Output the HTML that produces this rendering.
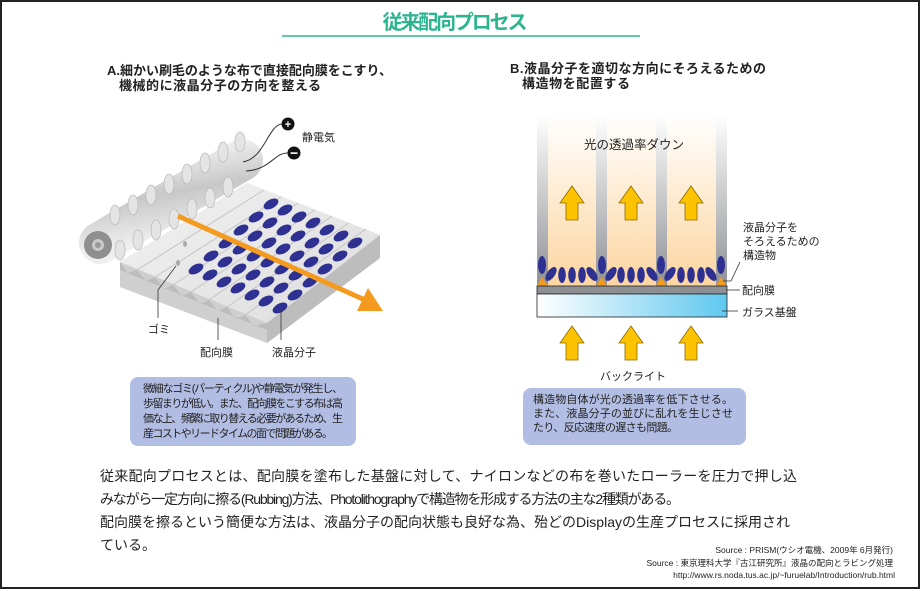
<!DOCTYPE html>
<html><head><meta charset="utf-8"><style>
html,body{margin:0;padding:0;background:#fff;}
svg{display:block;}
text{font-family:"Liberation Sans","Noto Sans CJK JP",sans-serif;}
</style></head><body>
<svg width="921" height="591" viewBox="0 0 921 591" xmlns="http://www.w3.org/2000/svg">
<defs>
<linearGradient id="gcol" x1="0" y1="0" x2="0" y2="1"><stop offset="0" stop-color="#fff"/><stop offset="1" stop-color="#8e9094"/></linearGradient>
<linearGradient id="pcol" x1="0" y1="0" x2="0" y2="1"><stop offset="0" stop-color="#fff"/><stop offset="1" stop-color="#fcd5a0"/></linearGradient>
<linearGradient id="glass" x1="0" y1="0" x2="1" y2="0"><stop offset="0" stop-color="#fff"/><stop offset="1" stop-color="#5fc8ef"/></linearGradient>
<linearGradient id="roll" x1="0" y1="0" x2="0.3" y2="1"><stop offset="0" stop-color="#f4f4f4"/><stop offset="0.5" stop-color="#c8c8c8"/><stop offset="1" stop-color="#efefef"/></linearGradient>
<linearGradient id="slab" x1="0" y1="0" x2="1" y2="1"><stop offset="0" stop-color="#f2f2f2"/><stop offset="1" stop-color="#dcdcdc"/></linearGradient>
<g id="up"><polygon points="0,-17 12,0 6,0 6,17 -6,17 -6,0 -12,0" fill="#fdc300" stroke="#8a6a00" stroke-width="0.8"/></g>
</defs>
<rect x="1" y="1" width="918" height="587" fill="#fff" stroke="#222" stroke-width="2"/>
<text x="455" y="29" font-size="20" font-weight="bold" fill="#2bb58f" text-anchor="middle" textLength="145">従来配向プロセス</text>
<line x1="282" y1="36" x2="640" y2="36" stroke="#2bb58f" stroke-width="1.5"/>

<text x="107" y="75" font-size="13" font-weight="bold" fill="#222" textLength="285">A.細かい刷毛のような布で直接配向膜をこすり、</text>
<text x="119" y="90" font-size="13" font-weight="bold" fill="#222" textLength="202">機械的に液晶分子の方向を整える</text>
<text x="510" y="73" font-size="13" font-weight="bold" fill="#222" textLength="256">B.液晶分子を適切な方向にそろえるための</text>
<text x="522" y="88" font-size="13" font-weight="bold" fill="#222" textLength="108">構造物を配置する</text>

<!-- left: slab -->
<polygon points="120,262 247,183 380,235 380,258 267,343 120,287" fill="#d6d6d6"/>
<polygon points="120,262 247,183 380,235 267,323" fill="url(#slab)"/>
<polygon points="120,262 267,323 267,343 120,287" fill="#cfcfcf"/>
<polygon points="120,262 128,273 137,270 146,281 155,277 164,289 173,285 182,296 191,292 200,304 209,300 218,311 227,307 236,319 245,315 254,326 267,323 267,330 120,270" fill="#bcbcbc"/>
<polygon points="267,323 380,235 380,258 267,343" fill="#bdbdbd"/>
<g stroke="#c4c4c4" stroke-width="1">
<line x1="137" y1="270" x2="264" y2="190"/><line x1="155" y1="277" x2="281" y2="197"/><line x1="173" y1="285" x2="298" y2="203"/><line x1="191" y1="292" x2="315" y2="210"/><line x1="209" y1="300" x2="332" y2="216"/><line x1="227" y1="307" x2="349" y2="223"/><line x1="245" y1="315" x2="366" y2="229"/>
</g>
<!-- roller -->
<line x1="100" y1="243" x2="242" y2="160" stroke="url(#roll)" stroke-width="42" stroke-linecap="round"/>
<g fill="#e4e4e4" stroke="#b8b8b8" stroke-width="0.7">
<ellipse cx="115" cy="215" rx="5" ry="10"/><ellipse cx="133" cy="205" rx="5" ry="10"/><ellipse cx="151" cy="195" rx="5" ry="10"/><ellipse cx="169" cy="184" rx="5" ry="10"/><ellipse cx="187" cy="174" rx="5" ry="10"/><ellipse cx="205" cy="163" rx="5" ry="10"/><ellipse cx="223" cy="152" rx="5" ry="10"/><ellipse cx="240" cy="142" rx="5" ry="10"/>
<ellipse cx="120" cy="250" rx="5" ry="10"/><ellipse cx="138" cy="240" rx="5" ry="10"/><ellipse cx="156" cy="230" rx="5" ry="10"/><ellipse cx="174" cy="219" rx="5" ry="10"/><ellipse cx="192" cy="209" rx="5" ry="10"/><ellipse cx="210" cy="198" rx="5" ry="10"/><ellipse cx="228" cy="187" rx="5" ry="10"/>
</g>
<circle cx="98" cy="245" r="14" fill="#8f8f8f"/><circle cx="98" cy="245" r="6" fill="#c9c9c9"/><circle cx="98" cy="245" r="3" fill="#999"/>
<!-- wires -->
<path d="M243,162 C265,158 268,125 282,124" fill="none" stroke="#333" stroke-width="1"/>
<path d="M246,171 C270,170 275,152 288,153" fill="none" stroke="#333" stroke-width="1"/>
<circle cx="288" cy="124" r="6.5" fill="#111"/><text x="288" y="128" font-size="11" fill="#fff" text-anchor="middle" font-weight="bold">+</text>
<circle cx="294" cy="153" r="6.5" fill="#111"/><rect x="290.5" y="152.3" width="7" height="1.6" fill="#fff"/>
<text x="302" y="141" font-size="11" fill="#222">静電気</text>
<!-- dust -->
<ellipse cx="185" cy="244" rx="2" ry="3" fill="#aaa"/><ellipse cx="178" cy="263" rx="2" ry="3" fill="#aaa"/>
<!-- LC molecules -->
<g fill="#2e3192">
<ellipse cx="280" cy="308" rx="8" ry="4.5" transform="rotate(-28 280 308)"/><ellipse cx="266" cy="301" rx="8" ry="4.5" transform="rotate(-28 266 301)"/><ellipse cx="252" cy="295" rx="8" ry="4.5" transform="rotate(-28 252 295)"/><ellipse cx="238" cy="288" rx="8" ry="4.5" transform="rotate(-28 238 288)"/><ellipse cx="224" cy="282" rx="8" ry="4.5" transform="rotate(-28 224 282)"/><ellipse cx="210" cy="275" rx="8" ry="4.5" transform="rotate(-28 210 275)"/><ellipse cx="196" cy="269" rx="8" ry="4.5" transform="rotate(-28 196 269)"/>
<ellipse cx="295" cy="295" rx="8" ry="4.5" transform="rotate(-28 295 295)"/><ellipse cx="281" cy="288" rx="8" ry="4.5" transform="rotate(-28 281 288)"/><ellipse cx="267" cy="282" rx="8" ry="4.5" transform="rotate(-28 267 282)"/><ellipse cx="253" cy="275" rx="8" ry="4.5" transform="rotate(-28 253 275)"/><ellipse cx="239" cy="269" rx="8" ry="4.5" transform="rotate(-28 239 269)"/><ellipse cx="225" cy="262" rx="8" ry="4.5" transform="rotate(-28 225 262)"/><ellipse cx="211" cy="256" rx="8" ry="4.5" transform="rotate(-28 211 256)"/>
<ellipse cx="310" cy="282" rx="8" ry="4.5" transform="rotate(-28 310 282)"/><ellipse cx="296" cy="275" rx="8" ry="4.5" transform="rotate(-28 296 275)"/><ellipse cx="282" cy="269" rx="8" ry="4.5" transform="rotate(-28 282 269)"/><ellipse cx="268" cy="262" rx="8" ry="4.5" transform="rotate(-28 268 262)"/><ellipse cx="254" cy="256" rx="8" ry="4.5" transform="rotate(-28 254 256)"/><ellipse cx="240" cy="249" rx="8" ry="4.5" transform="rotate(-28 240 249)"/><ellipse cx="226" cy="243" rx="8" ry="4.5" transform="rotate(-28 226 243)"/>
<ellipse cx="325" cy="269" rx="8" ry="4.5" transform="rotate(-28 325 269)"/><ellipse cx="311" cy="262" rx="8" ry="4.5" transform="rotate(-28 311 262)"/><ellipse cx="297" cy="256" rx="8" ry="4.5" transform="rotate(-28 297 256)"/><ellipse cx="283" cy="249" rx="8" ry="4.5" transform="rotate(-28 283 249)"/><ellipse cx="269" cy="243" rx="8" ry="4.5" transform="rotate(-28 269 243)"/><ellipse cx="255" cy="236" rx="8" ry="4.5" transform="rotate(-28 255 236)"/><ellipse cx="241" cy="230" rx="8" ry="4.5" transform="rotate(-28 241 230)"/>
<ellipse cx="340" cy="256" rx="8" ry="4.5" transform="rotate(-28 340 256)"/><ellipse cx="326" cy="249" rx="8" ry="4.5" transform="rotate(-28 326 249)"/><ellipse cx="312" cy="243" rx="8" ry="4.5" transform="rotate(-28 312 243)"/><ellipse cx="298" cy="236" rx="8" ry="4.5" transform="rotate(-28 298 236)"/><ellipse cx="284" cy="230" rx="8" ry="4.5" transform="rotate(-28 284 230)"/><ellipse cx="270" cy="223" rx="8" ry="4.5" transform="rotate(-28 270 223)"/><ellipse cx="256" cy="217" rx="8" ry="4.5" transform="rotate(-28 256 217)"/>
<ellipse cx="355" cy="243" rx="8" ry="4.5" transform="rotate(-28 355 243)"/><ellipse cx="341" cy="236" rx="8" ry="4.5" transform="rotate(-28 341 236)"/><ellipse cx="327" cy="230" rx="8" ry="4.5" transform="rotate(-28 327 230)"/><ellipse cx="313" cy="223" rx="8" ry="4.5" transform="rotate(-28 313 223)"/><ellipse cx="299" cy="217" rx="8" ry="4.5" transform="rotate(-28 299 217)"/><ellipse cx="285" cy="210" rx="8" ry="4.5" transform="rotate(-28 285 210)"/><ellipse cx="271" cy="204" rx="8" ry="4.5" transform="rotate(-28 271 204)"/>
</g>
<!-- orange arrow -->
<line x1="178" y1="216" x2="365" y2="300" stroke="#f39a1f" stroke-width="5"/>
<polygon points="383,311 357,311 368,288" fill="#f39a1f"/>
<!-- leaders -->
<polyline points="176,266 158,290 158,318" fill="none" stroke="#333" stroke-width="0.8"/>
<line x1="218" y1="318" x2="218" y2="340" stroke="#333" stroke-width="0.8"/>
<line x1="281" y1="310" x2="281" y2="340" stroke="#333" stroke-width="0.8"/>
<text x="148" y="333" font-size="11" fill="#222">ゴミ</text>
<text x="200" y="356" font-size="11" fill="#222">配向膜</text>
<text x="272" y="356" font-size="11" fill="#222">液晶分子</text>

<!-- right diagram -->
<rect x="537" y="115" width="190" height="171" fill="url(#pcol)"/>
<rect x="537" y="115" width="11" height="171" fill="url(#gcol)"/>
<rect x="596" y="115" width="11" height="171" fill="url(#gcol)"/>
<rect x="656" y="115" width="11" height="171" fill="url(#gcol)"/>
<rect x="716" y="115" width="11" height="171" fill="url(#gcol)"/>
<text x="634" y="149" font-size="12.5" fill="#222" text-anchor="middle">光の透過率ダウン</text>
<use href="#up" x="572" y="203"/><use href="#up" x="631" y="203"/><use href="#up" x="691" y="203"/>
<g fill="#f39a1f"><polygon points="537,286 548,286 542,277"/><polygon points="596,286 607,286 602,277"/><polygon points="656,286 667,286 661,277"/><polygon points="716,286 727,286 721,277"/></g>
<g fill="#2e3192">
<ellipse cx="542" cy="265" rx="4" ry="9"/><ellipse cx="602" cy="265" rx="4" ry="9"/><ellipse cx="661" cy="265" rx="4" ry="9"/><ellipse cx="721" cy="265" rx="4" ry="9"/>
<ellipse cx="551" cy="274" rx="4" ry="8" transform="rotate(35 551 274)"/><ellipse cx="592" cy="274" rx="4" ry="8" transform="rotate(-35 592 274)"/><ellipse cx="611" cy="274" rx="4" ry="8" transform="rotate(35 611 274)"/><ellipse cx="652" cy="274" rx="4" ry="8" transform="rotate(-35 652 274)"/><ellipse cx="670" cy="274" rx="4" ry="8" transform="rotate(35 670 274)"/><ellipse cx="711" cy="274" rx="4" ry="8" transform="rotate(-35 711 274)"/>
<ellipse cx="562" cy="275" rx="3.8" ry="8"/><ellipse cx="572" cy="275" rx="3.8" ry="8"/><ellipse cx="582" cy="275" rx="3.8" ry="8"/>
<ellipse cx="621" cy="275" rx="3.8" ry="8"/><ellipse cx="631" cy="275" rx="3.8" ry="8"/><ellipse cx="641" cy="275" rx="3.8" ry="8"/>
<ellipse cx="681" cy="275" rx="3.8" ry="8"/><ellipse cx="691" cy="275" rx="3.8" ry="8"/><ellipse cx="701" cy="275" rx="3.8" ry="8"/>
</g>
<rect x="537" y="286" width="190" height="8" fill="#8d8f92" stroke="#222" stroke-width="0.8"/>
<rect x="537" y="294" width="190" height="23" fill="url(#glass)" stroke="#222" stroke-width="0.8"/>
<use href="#up" x="572" y="343"/><use href="#up" x="631" y="343"/><use href="#up" x="691" y="343"/>
<text x="633" y="380" font-size="11" fill="#222" text-anchor="middle">バックライト</text>
<text x="743" y="231" font-size="11" fill="#222">液晶分子を</text>
<text x="743" y="245" font-size="11" fill="#222">そろえるための</text>
<text x="743" y="259" font-size="11" fill="#222">構造物</text>
<polyline points="723,281 731,281 740,262" fill="none" stroke="#333" stroke-width="0.8"/>
<line x1="727" y1="290" x2="740" y2="290" stroke="#333" stroke-width="0.8"/>
<text x="742" y="294" font-size="11" fill="#222">配向膜</text>
<line x1="722" y1="311" x2="738" y2="311" stroke="#333" stroke-width="0.8"/>
<text x="742" y="316" font-size="11" fill="#222">ガラス基盤</text>

<!-- boxes -->
<rect x="130" y="377" width="226" height="69" rx="8" fill="#b2bde3"/>
<text x="143" y="392" font-size="11" fill="#222" textLength="200">微細なゴミ(パーティクル)や静電気が発生し、</text>
<text x="143" y="407" font-size="11" fill="#222" textLength="200">歩留まりが低い。また、配向膜をこする布は高</text>
<text x="143" y="422" font-size="11" fill="#222" textLength="200">価な上、頻繁に取り替える必要があるため、生</text>
<text x="143" y="437" font-size="11" fill="#222" textLength="190">産コストやリードタイムの面で問題がある。</text>
<rect x="523" y="388" width="223" height="57" rx="8" fill="#b2bde3"/>
<text x="533" y="403" font-size="11" fill="#222" textLength="200">構造物自体が光の透過率を低下させる。</text>
<text x="533" y="417" font-size="11" fill="#222" textLength="200">また、液晶分子の並びに乱れを生じさせ</text>
<text x="533" y="431" font-size="11" fill="#222" textLength="145">たり、反応速度の遅さも問題。</text>

<!-- paragraph -->
<text x="100" y="481" font-size="14" fill="#222" textLength="697">従来配向プロセスとは、配向膜を塗布した基盤に対して、ナイロンなどの布を巻いたローラーを圧力で押し込</text>
<text x="100" y="504" font-size="14" fill="#222" textLength="580">みながら一定方向に擦る(Rubbing)方法、Photolithographyで構造物を形成する方法の主な2種類がある。</text>
<text x="100" y="527" font-size="14" fill="#222" textLength="690">配向膜を擦るという簡便な方法は、液晶分子の配向状態も良好な為、殆どのDisplayの生産プロセスに採用され</text>
<text x="100" y="550" font-size="14" fill="#222">ている。</text>

<text x="893" y="553" font-size="8.5" fill="#222" text-anchor="end">Source : PRISM(ウシオ電機、2009年 6月発行)</text>
<text x="893" y="566" font-size="8.5" fill="#222" text-anchor="end">Source : 東京理科大学『古江研究所』液晶の配向とラビング処理</text>
<text x="895" y="578" font-size="8.5" fill="#222" text-anchor="end">http://www.rs.noda.tus.ac.jp/~furuelab/Introduction/rub.html</text>
</svg>
</body></html>
